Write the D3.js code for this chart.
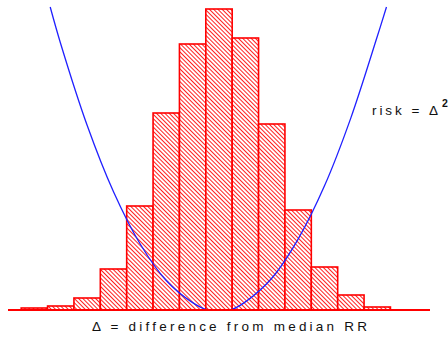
<!DOCTYPE html>
<html>
<head>
    <script src="https://d3js.org/d3.v7.min.js"></script>
    <style>
        body { margin: 0; background-color: #FFFFFF; }
        text { font-family: Arial, "Liberation Sans", sans-serif; }
    </style>
</head>
<body>
    <div id="chart"></div>
    <script>
        // Histogram bins: centre of each bin (in bin widths from the median) and count
        var binCentres = [-7, -6, -5, -4, -3, -2, -1, 0, 1, 2, 3, 4, 5, 6];
        var binCounts = [2, 4, 12, 41, 104, 197, 266, 301, 272, 186, 100, 43, 15, 3];

        // Risk curve (risk = delta squared)
        var curveDelta = [-6.4, -6, -5, -4, -3, -2, -1, -0.5, 0, 0.5, 1, 2, 3, 4, 5, 6, 6.35];
        var curveRisk = [41, 36, 25, 16, 9, 4, 1, 0.1, 0, 0.1, 1.1, 4.3, 9.6, 16.8, 26, 37, 41];

        var width = 448, height = 339;
        var baseY = 310;

        var svg = d3.select("#chart")
            .append("svg")
            .attr("width", width)
            .attr("height", height);

        // Hatch pattern
        var pattern = svg.append("defs")
            .append("pattern")
            .attr("id", "hatch")
            .attr("patternUnits", "userSpaceOnUse")
            .attr("width", 3)
            .attr("height", 3)
            .attr("patternTransform", "rotate(-45)");

        pattern.append("rect")
            .attr("width", 3)
            .attr("height", 3)
            .attr("fill", "#FFFFFF");

        pattern.append("line")
            .attr("x1", 0.5).attr("y1", 0)
            .attr("x2", 0.5).attr("y2", 3)
            .attr("stroke", "#FF2020")
            .attr("stroke-width", 1);

        // Scales
        var x = d3.scaleLinear()
            .domain([-8, 8])
            .range([8, 430]);

        var yCount = d3.scaleLinear()
            .domain([0, 301])
            .range([baseY, 9]);

        var yRisk = d3.scaleLinear()
            .domain([0, 41])
            .range([baseY, 7]);

        // Bars
        svg.selectAll(".bar")
            .data(binCentres)
            .enter()
            .append("rect")
            .attr("class", "bar")
            .attr("x", function(d) { return x(d - 0.5); })
            .attr("width", function(d) { return x(d + 0.5) - x(d - 0.5); })
            .attr("y", function(d, i) { return yCount(binCounts[i]); })
            .attr("height", function(d, i) { return baseY - yCount(binCounts[i]); })
            .attr("fill", "url(#hatch)")
            .attr("stroke", "#FF0000")
            .attr("stroke-width", 1.6);

        // Risk curve
        var riskPoints = curveDelta.map(function(d, i) { return [d, curveRisk[i]]; });

        svg.append("path")
            .datum(riskPoints)
            .attr("d", d3.line()
                .x(function(d) { return x(d[0]); })
                .y(function(d) { return yRisk(d[1]); })
                .curve(d3.curveCatmullRom))
            .attr("fill", "none")
            .attr("stroke", "#2020FF")
            .attr("stroke-width", 1.3);

        // Baseline
        svg.append("line")
            .attr("x1", x(-8))
            .attr("x2", x(8))
            .attr("y1", baseY)
            .attr("y2", baseY)
            .attr("stroke", "#FF0000")
            .attr("stroke-width", 2);

        // Labels
        svg.append("text")
            .attr("x", 92)
            .attr("y", 331)
            .attr("font-size", 13.5)
            .attr("fill", "#111111")
            .attr("textLength", 275)
            .attr("lengthAdjust", "spacing")
            .text("\u0394 = difference from median RR");

        var risk = svg.append("text")
            .attr("x", 372)
            .attr("y", 115)
            .attr("font-size", 13.5)
            .attr("fill", "#111111");

        risk.append("tspan")
            .attr("textLength", 66)
            .attr("lengthAdjust", "spacing")
            .text("risk = \u0394");

        risk.append("tspan")
            .attr("dx", 1)
            .attr("dy", -8)
            .attr("font-size", 10.5)
            .attr("font-weight", "bold")
            .text("2");
    </script>
</body>
</html>
